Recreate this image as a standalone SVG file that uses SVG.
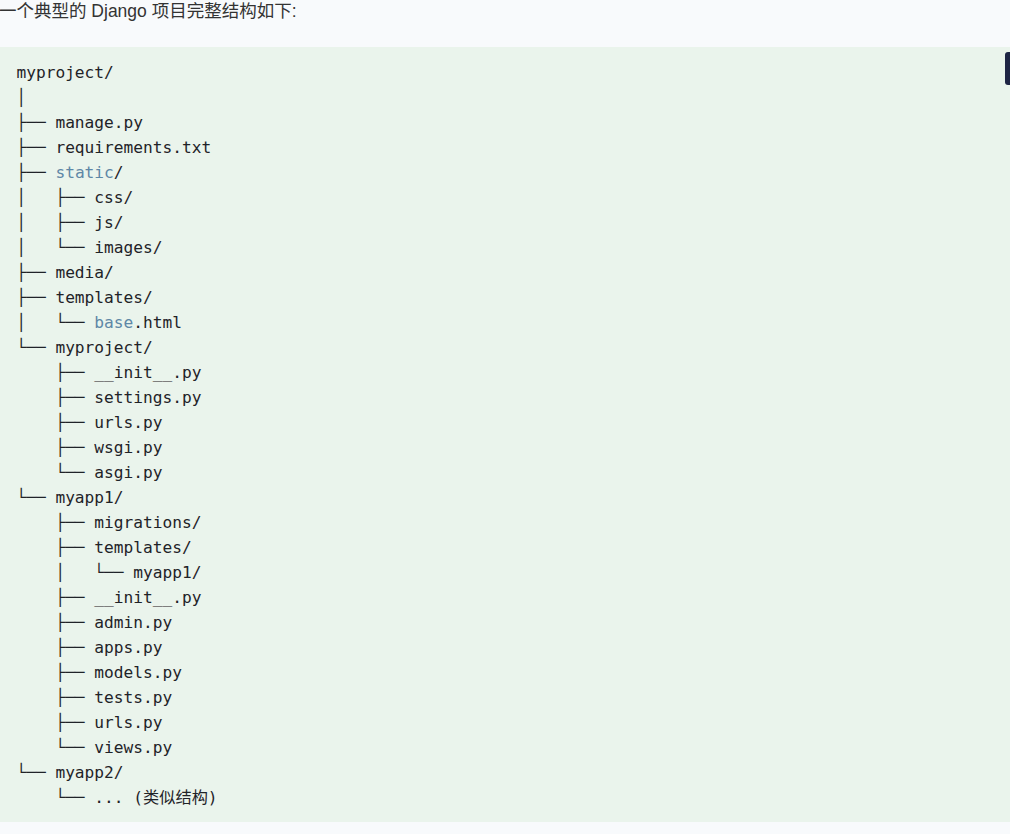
<svg xmlns="http://www.w3.org/2000/svg" width="1010" height="834" viewBox="0 0 1010 834">
<style>
.title{font-family:"Liberation Sans","Noto Sans CJK SC",sans-serif;font-size:17.5px;fill:#333333}
.code{font-family:"DejaVu Sans Mono","Noto Sans CJK SC",monospace;font-size:16.2px;fill:#1f2328;white-space:pre}
.hl{fill:#5e87a6}
</style>
<rect x="0" y="0" width="1010" height="834" fill="#f8fafc"/>
<g id="title"><text class="title" x="-1" y="16.5">一个典型的 Django 项目完整结构如下:</text></g>
<g id="codeblock">
<rect x="0" y="47" width="1010" height="775" fill="#eaf4ec"/>
<rect id="copy-button" x="1005" y="52" width="12" height="33" rx="3" fill="#1e2544"/>
</g>
<g id="tree" transform="translate(0.4,0)">
<text class="code" x="16" y="78">myproject/</text>
<text class="code" x="16" y="103">│</text>
<text class="code" x="16" y="128">├── manage.py</text>
<text class="code" x="16" y="153">├── requirements.txt</text>
<text class="code" x="16" y="178">├── <tspan class="hl">static</tspan>/</text>
<text class="code" x="16" y="203">│   ├── css/</text>
<text class="code" x="16" y="228">│   ├── js/</text>
<text class="code" x="16" y="253">│   └── images/</text>
<text class="code" x="16" y="278">├── media/</text>
<text class="code" x="16" y="303">├── templates/</text>
<text class="code" x="16" y="328">│   └── <tspan class="hl">base</tspan>.html</text>
<text class="code" x="16" y="353">└── myproject/</text>
<text class="code" x="16" y="378">    ├── __init__.py</text>
<text class="code" x="16" y="403">    ├── settings.py</text>
<text class="code" x="16" y="428">    ├── urls.py</text>
<text class="code" x="16" y="453">    ├── wsgi.py</text>
<text class="code" x="16" y="478">    └── asgi.py</text>
<text class="code" x="16" y="503">└── myapp1/</text>
<text class="code" x="16" y="528">    ├── migrations/</text>
<text class="code" x="16" y="553">    ├── templates/</text>
<text class="code" x="16" y="578">    │   └── myapp1/</text>
<text class="code" x="16" y="603">    ├── __init__.py</text>
<text class="code" x="16" y="628">    ├── admin.py</text>
<text class="code" x="16" y="653">    ├── apps.py</text>
<text class="code" x="16" y="678">    ├── models.py</text>
<text class="code" x="16" y="703">    ├── tests.py</text>
<text class="code" x="16" y="728">    ├── urls.py</text>
<text class="code" x="16" y="753">    └── views.py</text>
<text class="code" x="16" y="778">└── myapp2/</text>
<text class="code" x="16" y="803">    └── ... (类似结构)</text>
</g>
</svg>
